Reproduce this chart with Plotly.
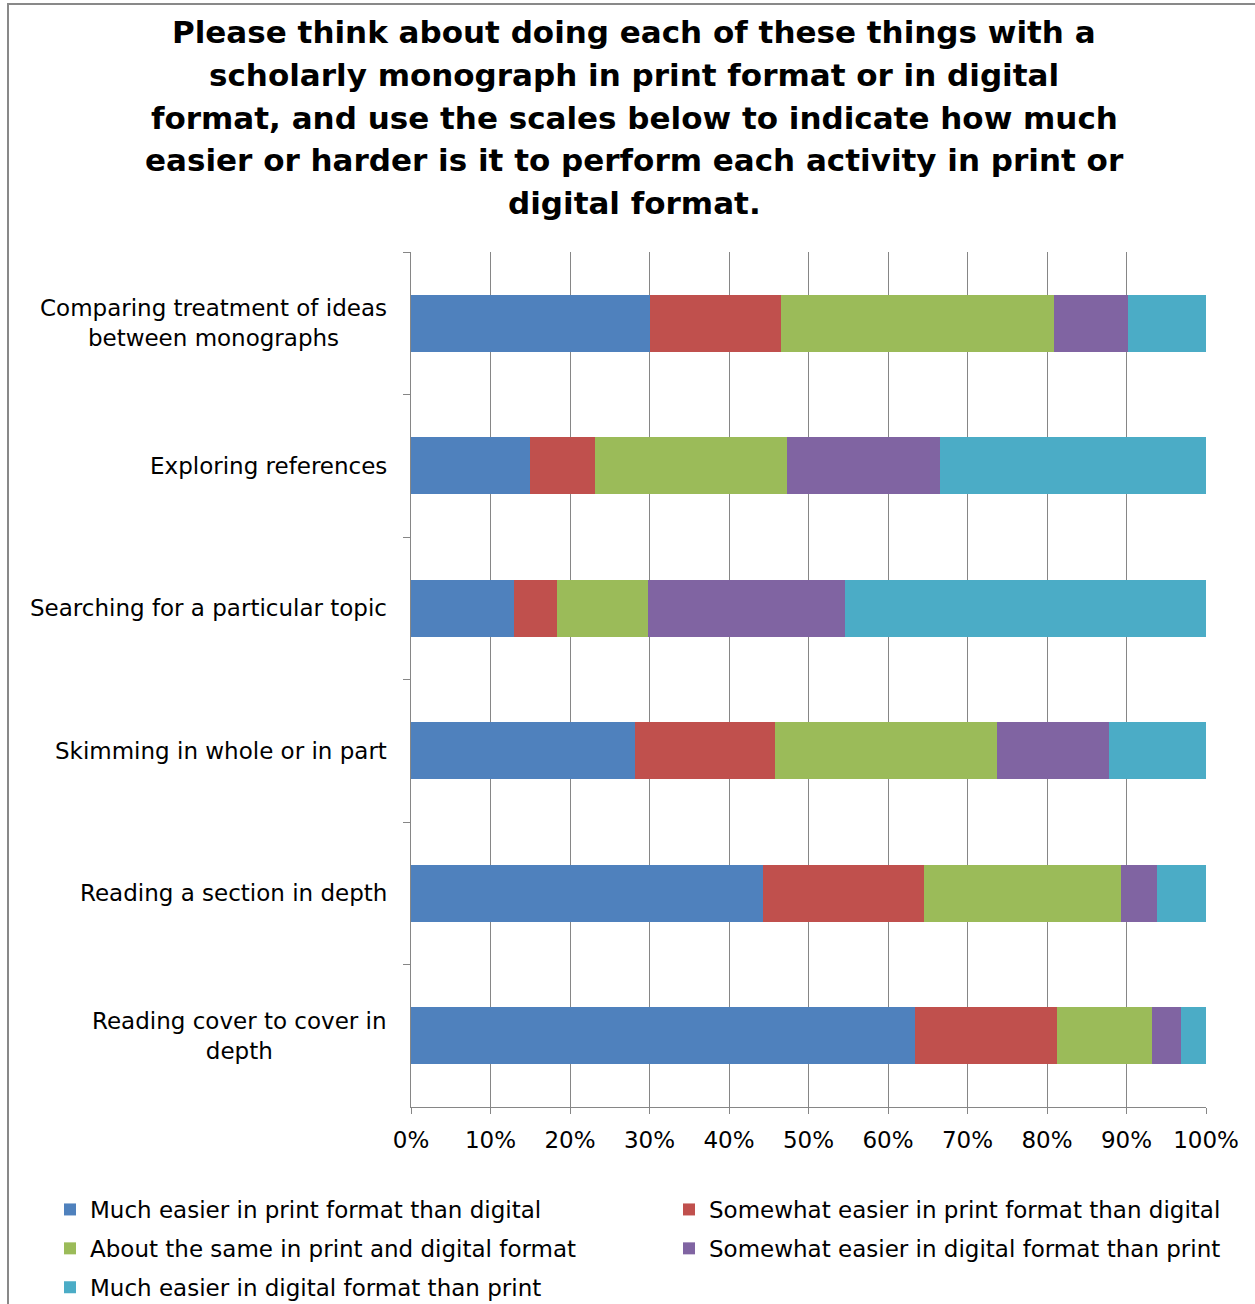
import plotly.graph_objects as go

categories = [
    "Comparing treatment of ideas<br>between monographs",
    "Exploring references",
    "Searching for a particular topic",
    "Skimming in whole or in part",
    "Reading a section in depth",
    "Reading cover to cover in<br>depth",
]
series_names = [
    "Much easier in print format than digital",
    "Somewhat easier in print format than digital",
    "About the same in print and digital format",
    "Somewhat easier in digital format than print",
    "Much easier in digital format than print",
]
much_print = [30.1, 15.0, 13.0, 28.2, 44.3, 63.4]
somewhat_print = [16.4, 8.1, 5.4, 17.6, 20.2, 17.9]
about_same = [34.4, 24.2, 11.4, 27.9, 24.8, 11.9]
somewhat_digital = [9.3, 19.2, 24.8, 14.1, 4.5, 3.7]
much_digital = [9.8, 33.5, 45.4, 12.2, 6.2, 3.1]
series_values = [much_print, somewhat_print, about_same, somewhat_digital, much_digital]
colors = ["#4F81BD", "#C0504D", "#9BBB59", "#8064A2", "#4BACC6"]
legend_column = ["legend", "legend2", "legend", "legend2", "legend"]
x_ticks = [0, 0.1, 0.2, 0.3, 0.4, 0.5, 0.6, 0.7, 0.8, 0.9, 1.0]

title_lines = [
    "Please think about doing each of these things with a",
    "scholarly monograph in print format or in digital",
    "format, and use the scales below to indicate how much",
    "easier or harder is it to perform each activity in print or",
    "digital format.",
]

W, H = 1255, 1304
ML, MR, MT, MB = 411, 49, 252, 197
FONT = "DejaVu Sans"
GRAY = "#868686"

fig = go.Figure()
totals = [sum(v[i] for v in series_values) for i in range(len(categories))]
for k, (name, vals, col) in enumerate(zip(series_names, series_values, colors)):
    fig.add_trace(go.Bar(
        y=categories, x=[v / t for v, t in zip(vals, totals)], name=name,
        orientation="h", marker=dict(color=col, line=dict(width=0)),
        legend=legend_column[k], legendgroup="g%d" % k,
    ))

pw = W - ML - MR
ph = H - MT - MB

def px_x(p):
    return (p - ML) / pw

def px_y(p):
    return (H - MB - p) / ph

shapes = [
    dict(type="line", xref="paper", yref="paper", x0=px_x(8), x1=px_x(8),
         y0=px_y(4), y1=px_y(1310), line=dict(color="#898989", width=2)),
    dict(type="line", xref="paper", yref="paper", x0=px_x(7), x1=px_x(1260),
         y0=px_y(4), y1=px_y(4), line=dict(color="#898989", width=2)),
]

annotations = [
    dict(text=c, xref="paper", yref="y", x=0, y=c, xanchor="right", yanchor="middle",
         xshift=-22, align="center", showarrow=False,
         font=dict(family=FONT, size=23, color="#000000"))
    for c in categories
]
for i, line in enumerate(title_lines):
    annotations.append(dict(
        text=line, xref="paper", yref="paper", x=px_x(634), y=px_y(32 + 42.8 * i),
        xanchor="center", yanchor="middle", showarrow=False,
        font=dict(family=FONT, size=31, color="#000000", weight="bold")))

legend_common = dict(orientation="v", xref="paper", yref="paper",
                     xanchor="left", yanchor="top", traceorder="grouped",
                     tracegroupgap=6, bgcolor="rgba(0,0,0,0)",
                     font=dict(family=FONT, size=23, color="#000000"),
                     itemclick=False, itemdoubleclick=False)

fig.update_layout(
    width=W, height=H,
    margin=dict(l=ML, r=MR, t=MT, b=MB, pad=0, autoexpand=False),
    paper_bgcolor="white", plot_bgcolor="white",
    barmode="stack", bargap=0.6,
    font=dict(family=FONT, size=23, color="#000000"),
    xaxis=dict(range=[0, 1], tickvals=x_ticks, tickformat=".0%",
               showgrid=True, gridcolor=GRAY, gridwidth=1,
               showline=True, linecolor=GRAY, linewidth=1,
               ticks="outside", ticklen=6, tickcolor=GRAY,
               ticklabelstandoff=6, zeroline=False,
               tickfont=dict(family=FONT, size=23, color="#000000")),
    yaxis=dict(autorange="reversed", showticklabels=False, tickson="boundaries",
               ticks="outside", ticklen=7, tickcolor=GRAY, showgrid=False,
               showline=True, linecolor=GRAY, linewidth=1),
    legend=dict(x=px_x(50), y=px_y(1188), **legend_common),
    legend2=dict(x=px_x(669), y=px_y(1188), **legend_common),
    shapes=shapes, annotations=annotations,
    showlegend=True,
)

fig.write_html("out.html", config={"displayModeBar": False},
               post_script="document.body.style.margin='0px';")
